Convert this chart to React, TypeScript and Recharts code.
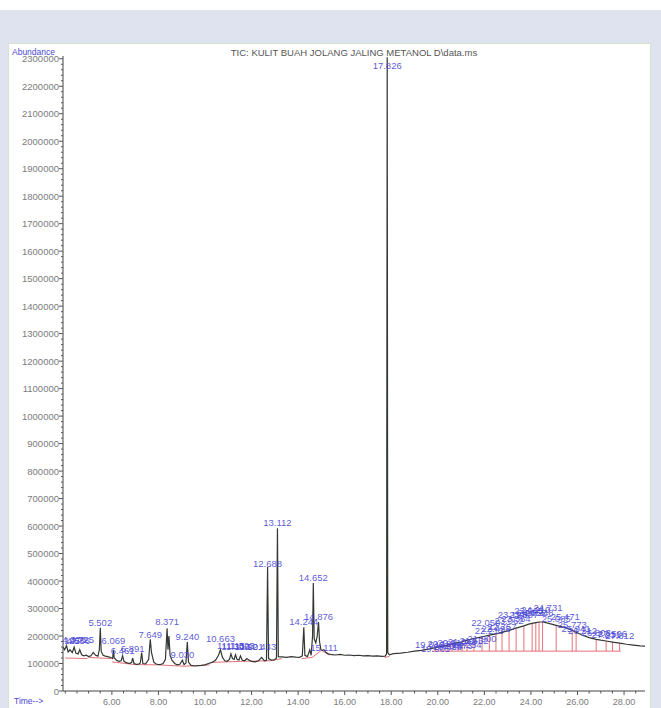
import React from 'react';
import { ComposedChart, Line, XAxis, YAxis, Scatter, ReferenceLine } from 'recharts';

// Retention time (min) and abundance of the TIC trace
const ticTime = [
  3.9, 3.97, 4.05, 4.12, 4.2, 4.3, 4.38, 4.45, 4.55, 4.62, 4.7, 4.8, 4.9, 5.0, 5.1, 5.2, 5.3, 5.4, 5.46, 5.502,
  5.54, 5.62, 5.72, 5.82, 5.95, 6.03, 6.069, 6.1, 6.2, 6.3, 6.4, 6.461, 6.52, 6.62, 6.75, 6.85, 6.891, 6.95, 7.05, 7.15,
  7.22, 7.28, 7.33, 7.45, 7.58, 7.649, 7.7, 7.8, 7.9, 8.0, 8.1, 8.2, 8.3, 8.371, 8.41, 8.45, 8.5, 8.58, 8.7, 8.8,
  8.92, 9.03, 9.1, 9.18, 9.24, 9.29, 9.4, 9.55, 9.7, 9.85, 10.0, 10.15, 10.3, 10.45, 10.58, 10.663, 10.75, 10.85, 10.95, 11.05,
  11.113, 11.18, 11.25, 11.309, 11.38, 11.46, 11.523, 11.6, 11.7, 11.8, 11.9, 12.0, 12.15, 12.3, 12.433, 12.55, 12.64, 12.688, 12.73, 12.85,
  12.98, 13.07, 13.112, 13.15, 13.3, 13.5, 13.7, 13.9, 14.05, 14.18, 14.244, 14.29, 14.4, 14.5, 14.56, 14.62, 14.652, 14.69, 14.76, 14.82,
  14.876, 14.92, 14.98, 15.05, 15.111, 15.2, 15.3, 15.45, 15.6, 15.8, 16.0, 16.2, 16.4, 16.6, 16.8, 17.0, 17.2, 17.4, 17.6, 17.74,
  17.8, 17.826, 17.85, 17.92, 18.1, 18.4, 18.7, 19.0, 19.3, 19.643, 19.905, 20.181, 20.428, 20.612, 20.873, 21.048, 21.254, 21.552, 21.9, 22.059,
  22.213, 22.498, 22.757, 23.062, 23.198, 23.364, 23.697, 23.905, 24.052, 24.21, 24.348, 24.5, 24.731, 25.085, 25.3, 25.471, 25.773, 25.941, 26.212, 26.5,
  26.803, 27.0, 27.231, 27.506, 27.812, 28.1, 28.4, 28.7, 28.9,
];
const ticAbund = [
  160000, 150000, 165000, 142000, 150000, 140000, 160000, 138000, 135000, 150000, 132000, 128000, 130000, 125000, 128000, 140000, 130000, 127000, 150000, 230000,
  145000, 130000, 127000, 125000, 122000, 118000, 150000, 120000, 112000, 108000, 110000, 128000, 108000, 103000, 100000, 104000, 120000, 100000, 97000, 98000,
  102000, 140000, 100000, 99000, 115000, 188000, 140000, 105000, 98000, 96000, 97000, 100000, 115000, 228000, 150000, 200000, 130000, 112000, 100000, 95000,
  97000, 112000, 96000, 102000, 178000, 105000, 93000, 91000, 92000, 93000, 95000, 100000, 104000, 112000, 130000, 150000, 122000, 110000, 108000, 115000,
  135000, 118000, 115000, 132000, 115000, 113000, 128000, 112000, 110000, 118000, 112000, 108000, 106000, 110000, 122000, 110000, 112000, 452000, 118000, 112000,
  113000, 120000, 592000, 125000, 124000, 122000, 125000, 123000, 122000, 128000, 232000, 130000, 125000, 150000, 130000, 200000, 393000, 190000, 175000, 200000,
  251000, 180000, 150000, 148000, 150000, 140000, 135000, 132000, 131000, 133000, 130000, 131000, 129000, 130000, 128000, 129000, 127000, 128000, 126000, 127000,
  135000, 2305000, 140000, 132000, 136000, 138000, 141000, 145000, 148000, 153000, 158000, 163000, 167000, 171000, 176000, 179000, 185000, 191000, 197000, 200000,
  203000, 208000, 213000, 220000, 224000, 229000, 237000, 243000, 246000, 249000, 251000, 251000, 247000, 239000, 234000, 230000, 221000, 214000, 203000, 194000,
  188000, 185000, 182000, 178000, 174000, 170000, 167000, 164000, 163000,
];

// Peak labels: text, retention time, abundance level of the label
const labelText = [
  '4.125', '4.378', '4.556', '4.725', '5.502', '6.069', '6.461', '6.891', '7.649', '8.371', '9.030', '9.240', '10.663',
  '11.113', '11.309', '11.523', '11.901', '12.433', '12.688', '13.112', '14.244', '14.652', '14.876', '15.111', '17.826',
  '19.643', '19.905', '20.181', '20.428', '20.612', '20.873', '21.048', '21.254', '21.552', '21.900', '22.059', '22.213',
  '22.498', '22.757', '23.062', '23.198', '23.364', '23.697', '23.905', '24.052', '24.210', '24.348', '24.731', '25.085',
  '25.471', '25.773', '25.941', '26.212', '26.803', '27.231', '27.506', '27.812',
];
const labelTime = [
  4.125, 4.378, 4.556, 4.725, 5.502, 6.069, 6.461, 6.891, 7.649, 8.371, 9.03, 9.24, 10.663,
  11.113, 11.309, 11.523, 11.901, 12.433, 12.688, 13.112, 14.244, 14.652, 14.876, 15.111, 17.826,
  19.643, 19.905, 20.181, 20.428, 20.612, 20.873, 21.048, 21.254, 21.552, 21.9, 22.059, 22.213,
  22.498, 22.757, 23.062, 23.198, 23.364, 23.697, 23.905, 24.052, 24.21, 24.348, 24.731, 25.085,
  25.471, 25.773, 25.941, 26.212, 26.803, 27.231, 27.506, 27.812,
];
const labelLevel = [
  171000, 175000, 171000, 175000, 236000, 171000, 135000, 142000, 193000, 240000, 120000, 185000, 178000,
  153000, 150000, 153000, 150000, 149000, 451000, 600000, 240000, 400000, 258000, 145000, 2262000,
  157000, 142000, 160000, 149000, 164000, 153000, 167000, 157000, 171000, 178000, 236000, 207000,
  215000, 222000, 244000, 265000, 251000, 265000, 280000, 273000, 284000, 273000, 291000, 251000,
  258000, 229000, 215000, 207000, 200000, 193000, 196000, 189000,
];

// Integration peaks (red drop lines) in the late hump, and their common baseline
const dropTimes = [
  19.905, 20.181, 20.428, 20.612, 20.873, 21.048, 21.254, 21.552, 21.9, 22.213, 22.498, 22.757, 23.062,
  23.364, 23.697, 24.052, 24.21, 24.348, 24.5, 25.085, 25.773, 25.941, 26.803, 27.231, 27.506, 27.812,
];
const dropBase = 145000;
const humpBaseline = [19.75, 145000, 27.85, 145000];

// Early integration baselines: [t1, a1, t2, a2]
const baselines = [
  [4.0, 120000, 4.95, 118000],
  [5.0, 122000, 5.95, 118000],
  [6.0, 106000, 7.0, 96000],
  [7.0, 96000, 7.95, 95000],
  [8.0, 95000, 9.1, 90000],
  [9.1, 90000, 10.2, 95000],
  [10.3, 104000, 11.6, 108000],
  [11.6, 108000, 12.8, 110000],
  [12.8, 110000, 13.3, 118000],
  [14.15, 118000, 14.6, 122000],
  [14.6, 122000, 15.0, 148000],
  [15.0, 148000, 15.35, 130000],
  [17.72, 122000, 17.92, 126000],
];

const yMajor = [
  0, 100000, 200000, 300000, 400000, 500000, 600000, 700000, 800000, 900000, 1000000, 1100000,
  1200000, 1300000, 1400000, 1500000, 1600000, 1700000, 1800000, 1900000, 2000000, 2100000, 2200000, 2300000,
];
const xMajor = [6, 8, 10, 12, 14, 16, 18, 20, 22, 24, 26, 28];

const yTicks: number[] = [];
for (let i = 0; i < yMajor.length - 1; i++) {
  for (let k = 0; k < 5; k++) yTicks.push(yMajor[i] + (k * (yMajor[i + 1] - yMajor[i])) / 5);
}
yTicks.push(yMajor[yMajor.length - 1]);
const xTicks: number[] = [];
for (let v = 4; v <= 28.5; v += 0.5) xTicks.push(v);

const ticData = ticTime.map((t, i) => ({ t, a: ticAbund[i] }));
const labelData = labelText.map((text, i) => ({ t: labelTime[i], lv: labelLevel[i], text }));
const abundAt = (t: number) => ticAbund[ticTime.indexOf(t)];

const FONT = '"Liberation Sans", Arial, sans-serif';
const LABEL_BLUE = '#4a47d4';
const RED = '#e6707a';

const YTick = (props: any) => {
  const { x, y, payload } = props;
  const major = yMajor.includes(payload.value);
  return (
    <g>
      <line x1={x} x2={x - (major ? 4 : 2)} y1={y} y2={y} stroke="#555" strokeWidth={1} />
      {major && (
        <text x={x - 4} y={y + 3.5} textAnchor="end" fontSize={9.5} fill="#7c7c7c" fontFamily={FONT}>
          {payload.value}
        </text>
      )}
    </g>
  );
};

const XTick = (props: any) => {
  const { x, y, payload } = props;
  const major = xMajor.includes(payload.value);
  return (
    <g>
      <line x1={x} x2={x} y1={y} y2={y + (major ? 4 : 2.5)} stroke="#555" strokeWidth={1} />
      {major && (
        <text x={x} y={y + 13.5} textAnchor="middle" fontSize={9} fill="#7c7c7c" fontFamily={FONT}>
          {payload.value.toFixed(2)}
        </text>
      )}
    </g>
  );
};

const PeakLabel = (props: any) => {
  const { cx, cy, payload } = props;
  return (
    <text x={cx} y={cy} textAnchor="middle" fontSize={9.5} fill={LABEL_BLUE} fillOpacity={0.9} fontFamily={FONT}>
      {payload.text}
    </text>
  );
};

export default function App() {
  return (
    <div style={{ position: 'absolute', left: 0, top: 0, width: 661, height: 708, background: '#ffffff', overflow: 'hidden' }}>
      <div style={{ position: 'absolute', left: 0, top: 10, width: 661, height: 698, background: '#dfe2ef' }} />
      <div
        style={{
          position: 'absolute',
          left: 8,
          top: 43,
          width: 643,
          height: 670,
          background: '#ffffff',
          border: '1px solid #d3e6cc',
          boxSizing: 'border-box',
        }}
      />
      <div style={{ position: 'absolute', left: 0, top: 0 }}>
        <ComposedChart
          width={661}
          height={708}
          data={ticData}
          margin={{ top: 56, right: 16, bottom: 0, left: 3 }}
          style={{ fontFamily: FONT }}
        >
          <XAxis
            dataKey="t"
            type="number"
            domain={[3.9, 28.9]}
            allowDataOverflow
            ticks={xTicks}
            interval={0}
            tick={<XTick />}
            tickLine={false}
            tickSize={0}
            tickMargin={0}
            height={17}
            axisLine={{ stroke: '#444', strokeWidth: 1 }}
          />
          <YAxis
            type="number"
            domain={[0, 2310000]}
            allowDataOverflow
            ticks={yTicks}
            interval={0}
            tick={<YTick />}
            tickLine={false}
            tickSize={0}
            tickMargin={0}
            width={60}
            axisLine={{ stroke: '#444', strokeWidth: 1 }}
          />
          {baselines.map((b, i) => (
            <ReferenceLine
              key={'b' + i}
              segment={[{ x: b[0], y: b[1] }, { x: b[2], y: b[3] }]}
              stroke={RED}
              strokeWidth={1}
              ifOverflow="visible"
            />
          ))}
          <ReferenceLine
            segment={[{ x: humpBaseline[0], y: humpBaseline[1] }, { x: humpBaseline[2], y: humpBaseline[3] }]}
            stroke={RED}
            strokeWidth={1}
            ifOverflow="visible"
          />
          {dropTimes.map((t, i) => (
            <ReferenceLine
              key={'d' + i}
              segment={[{ x: t, y: dropBase }, { x: t, y: abundAt(t) }]}
              stroke={RED}
              strokeWidth={1}
              ifOverflow="visible"
            />
          ))}
          <Line
            dataKey="a"
            type="linear"
            dot={false}
            activeDot={false}
            stroke="#333833"
            strokeWidth={1.2}
            isAnimationActive={false}
          />
          <Scatter data={labelData} dataKey="lv" shape={<PeakLabel />} isAnimationActive={false} />
        </ComposedChart>
      </div>
      <svg width={661} height={708} style={{ position: 'absolute', left: 0, top: 0, pointerEvents: 'none' }}>
        <text x={354} y={56} textAnchor="middle" fontSize={9.5} fill="#555" fontFamily={FONT}>
          TIC: KULIT BUAH JOLANG JALING METANOL D\data.ms
        </text>
        <text x={12} y={55} fontSize={8.5} fill={LABEL_BLUE} fontFamily={FONT}>
          Abundance
        </text>
        <text x={14} y={704} fontSize={8.5} fill={LABEL_BLUE} fontFamily={FONT}>
          Time--&gt;
        </text>
      </svg>
    </div>
  );
}
